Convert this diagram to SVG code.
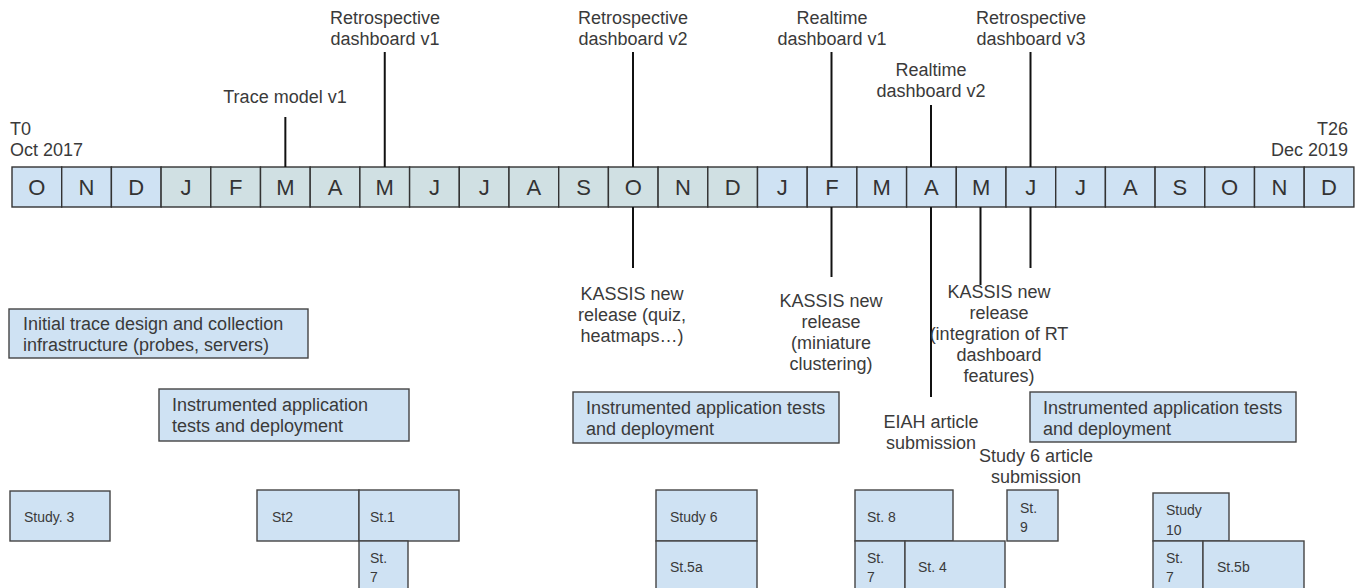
<svg xmlns="http://www.w3.org/2000/svg" width="1361" height="588" viewBox="0 0 1361 588">
<style>
.cb{fill:#cfe2f3;stroke:#333;stroke-width:1.4}
.cg{fill:#d0e0e3;stroke:#333;stroke-width:1.4}
.bx{fill:#cfe2f3;stroke:#444;stroke-width:1.4}
.m{font-family:"Liberation Sans",Arial,sans-serif;font-size:22px;fill:#333;text-anchor:middle}
.l{font-family:"Liberation Sans",Arial,sans-serif;font-size:18px;fill:#3a3a3a}
.c{text-anchor:middle}
.s{font-family:"Liberation Sans",Arial,sans-serif;font-size:14px;fill:#3a3a3a}
.t{stroke:#111;stroke-width:2;fill:none}
</style>
<rect width="1361" height="588" fill="#fff"/>
<g id="timeline">
<rect class="cb" x="12" y="167" width="49.7" height="40"/>
<rect class="cb" x="61.7" y="167" width="49.7" height="40"/>
<rect class="cb" x="111.4" y="167" width="49.7" height="40"/>
<rect class="cg" x="161.1" y="167" width="49.7" height="40"/>
<rect class="cg" x="210.8" y="167" width="49.7" height="40"/>
<rect class="cg" x="260.5" y="167" width="49.7" height="40"/>
<rect class="cg" x="310.2" y="167" width="49.7" height="40"/>
<rect class="cg" x="359.9" y="167" width="49.7" height="40"/>
<rect class="cg" x="409.6" y="167" width="49.7" height="40"/>
<rect class="cg" x="459.3" y="167" width="49.7" height="40"/>
<rect class="cg" x="509" y="167" width="49.7" height="40"/>
<rect class="cg" x="558.7" y="167" width="49.7" height="40"/>
<rect class="cg" x="608.4" y="167" width="49.7" height="40"/>
<rect class="cg" x="658.1" y="167" width="49.7" height="40"/>
<rect class="cg" x="707.8" y="167" width="49.7" height="40"/>
<rect class="cb" x="757.5" y="167" width="49.7" height="40"/>
<rect class="cb" x="807.2" y="167" width="49.7" height="40"/>
<rect class="cb" x="856.9" y="167" width="49.7" height="40"/>
<rect class="cb" x="906.6" y="167" width="49.7" height="40"/>
<rect class="cb" x="956.3" y="167" width="49.7" height="40"/>
<rect class="cb" x="1006" y="167" width="49.7" height="40"/>
<rect class="cb" x="1055.7" y="167" width="49.7" height="40"/>
<rect class="cb" x="1105.4" y="167" width="49.7" height="40"/>
<rect class="cb" x="1155.1" y="167" width="49.7" height="40"/>
<rect class="cb" x="1204.8" y="167" width="49.7" height="40"/>
<rect class="cb" x="1254.5" y="167" width="49.7" height="40"/>
<rect class="cb" x="1304.2" y="167" width="49.7" height="40"/>
<text class="m" x="36.85" y="195">O</text>
<text class="m" x="86.55" y="195">N</text>
<text class="m" x="136.25" y="195">D</text>
<text class="m" x="185.95" y="195">J</text>
<text class="m" x="235.65" y="195">F</text>
<text class="m" x="285.35" y="195">M</text>
<text class="m" x="335.05" y="195">A</text>
<text class="m" x="384.75" y="195">M</text>
<text class="m" x="434.45" y="195">J</text>
<text class="m" x="484.15" y="195">J</text>
<text class="m" x="533.85" y="195">A</text>
<text class="m" x="583.55" y="195">S</text>
<text class="m" x="633.25" y="195">O</text>
<text class="m" x="682.95" y="195">N</text>
<text class="m" x="732.65" y="195">D</text>
<text class="m" x="782.35" y="195">J</text>
<text class="m" x="832.05" y="195">F</text>
<text class="m" x="881.75" y="195">M</text>
<text class="m" x="931.45" y="195">A</text>
<text class="m" x="981.15" y="195">M</text>
<text class="m" x="1030.85" y="195">J</text>
<text class="m" x="1080.55" y="195">J</text>
<text class="m" x="1130.25" y="195">A</text>
<text class="m" x="1179.95" y="195">S</text>
<text class="m" x="1229.65" y="195">O</text>
<text class="m" x="1279.35" y="195">N</text>
<text class="m" x="1329.05" y="195">D</text>
</g>
<g id="connectors">
<line class="t" x1="285.35" y1="117" x2="285.35" y2="167"/>
<line class="t" x1="384.75" y1="52" x2="384.75" y2="167"/>
<line class="t" x1="633" y1="52" x2="633" y2="167"/>
<line class="t" x1="633" y1="207" x2="633" y2="268"/>
<line class="t" x1="831.5" y1="52" x2="831.5" y2="167"/>
<line class="t" x1="831.5" y1="207" x2="831.5" y2="277"/>
<line class="t" x1="931" y1="105" x2="931" y2="167"/>
<line class="t" x1="931" y1="207" x2="931" y2="397"/>
<line class="t" x1="980.5" y1="207" x2="980.5" y2="285"/>
<line class="t" x1="1030.5" y1="52" x2="1030.5" y2="167"/>
<line class="t" x1="1030.5" y1="207" x2="1030.5" y2="268"/>
</g>
<g id="t0"><text class="l" x="10" y="135">T0</text><text class="l" x="10" y="156">Oct 2017</text></g>
<g id="t26" text-anchor="end"><text class="l" x="1348" y="135" text-anchor="end">T26</text><text class="l" x="1348" y="156" text-anchor="end">Dec 2019</text></g>
<g id="trace-model-v1"><text class="l c" x="285" y="103">Trace model v1</text></g>
<g id="retro-v1"><text class="l c" x="385" y="24">Retrospective</text><text class="l c" x="385" y="45">dashboard v1</text></g>
<g id="retro-v2"><text class="l c" x="633" y="24">Retrospective</text><text class="l c" x="633" y="45">dashboard v2</text></g>
<g id="realtime-v1"><text class="l c" x="832" y="24">Realtime</text><text class="l c" x="832" y="45">dashboard v1</text></g>
<g id="realtime-v2"><text class="l c" x="931" y="76">Realtime</text><text class="l c" x="931" y="97">dashboard v2</text></g>
<g id="retro-v3"><text class="l c" x="1031" y="24">Retrospective</text><text class="l c" x="1031" y="45">dashboard v3</text></g>
<g id="kassis-1"><text class="l c" x="632" y="300">KASSIS new</text><text class="l c" x="632" y="321">release (quiz,</text><text class="l c" x="632" y="342">heatmaps…)</text></g>
<g id="kassis-2"><text class="l c" x="831" y="307">KASSIS new</text><text class="l c" x="831" y="328">release</text><text class="l c" x="831" y="349">(miniature</text><text class="l c" x="831" y="370">clustering)</text></g>
<g id="kassis-3"><text class="l c" x="999" y="298">KASSIS new</text><text class="l c" x="999" y="319">release</text><text class="l c" x="999" y="340">(integration of RT</text><text class="l c" x="999" y="361">dashboard</text><text class="l c" x="999" y="382">features)</text></g>
<g id="eiah"><text class="l c" x="931" y="428">EIAH article</text><text class="l c" x="931" y="449">submission</text></g>
<g id="study6-article"><text class="l c" x="1036" y="462">Study 6 article</text><text class="l c" x="1036" y="483">submission</text></g>
<g id="initial-trace"><rect class="bx" x="9" y="309" width="299" height="49"/><text class="l" x="23" y="330">Initial trace design and collection</text><text class="l" x="23" y="351">infrastructure (probes, servers)</text></g>
<g id="inst-1"><rect class="bx" x="159" y="389" width="250" height="52"/><text class="l" x="172" y="411">Instrumented application</text><text class="l" x="172" y="432">tests and deployment</text></g>
<g id="inst-2"><rect class="bx" x="573" y="392" width="266" height="51"/><text class="l" x="586" y="414">Instrumented application tests</text><text class="l" x="586" y="435">and deployment</text></g>
<g id="inst-3"><rect class="bx" x="1030" y="392" width="266" height="50"/><text class="l" x="1043" y="414">Instrumented application tests</text><text class="l" x="1043" y="435">and deployment</text></g>
<g id="study3"><rect class="bx" x="10" y="491" width="100" height="50"/><text class="s" x="24" y="522">Study. 3</text></g>
<g id="st2"><rect class="bx" x="257" y="490" width="102" height="51"/><text class="s" x="272" y="522">St2</text></g>
<g id="st1"><rect class="bx" x="359" y="490" width="100" height="51"/><text class="s" x="370" y="522">St.1</text></g>
<g id="st7a"><rect class="bx" x="359" y="541" width="49" height="50"/><text class="s" x="370" y="563">St.</text><text class="s" x="370" y="582">7</text></g>
<g id="study6"><rect class="bx" x="656" y="490" width="101" height="51"/><text class="s" x="670" y="522">Study 6</text></g>
<g id="st5a"><rect class="bx" x="656" y="541" width="101" height="50"/><text class="s" x="670" y="572">St.5a</text></g>
<g id="st8"><rect class="bx" x="855" y="490" width="98" height="51"/><text class="s" x="867" y="522">St. 8</text></g>
<g id="st9"><rect class="bx" x="1007" y="490" width="51" height="51"/><text class="s" x="1020" y="513">St.</text><text class="s" x="1020" y="532">9</text></g>
<g id="st7b"><rect class="bx" x="855" y="541" width="50" height="50"/><text class="s" x="867" y="563">St.</text><text class="s" x="867" y="582">7</text></g>
<g id="st4"><rect class="bx" x="905" y="541" width="100" height="50"/><text class="s" x="918" y="572">St. 4</text></g>
<g id="study10"><rect class="bx" x="1153" y="493" width="76" height="48"/><text class="s" x="1166" y="515">Study</text><text class="s" x="1166" y="535">10</text></g>
<g id="st7c"><rect class="bx" x="1153" y="541" width="50" height="50"/><text class="s" x="1166" y="563">St.</text><text class="s" x="1166" y="582">7</text></g>
<g id="st5b"><rect class="bx" x="1203" y="541" width="101" height="50"/><text class="s" x="1217" y="572">St.5b</text></g>
</svg>
